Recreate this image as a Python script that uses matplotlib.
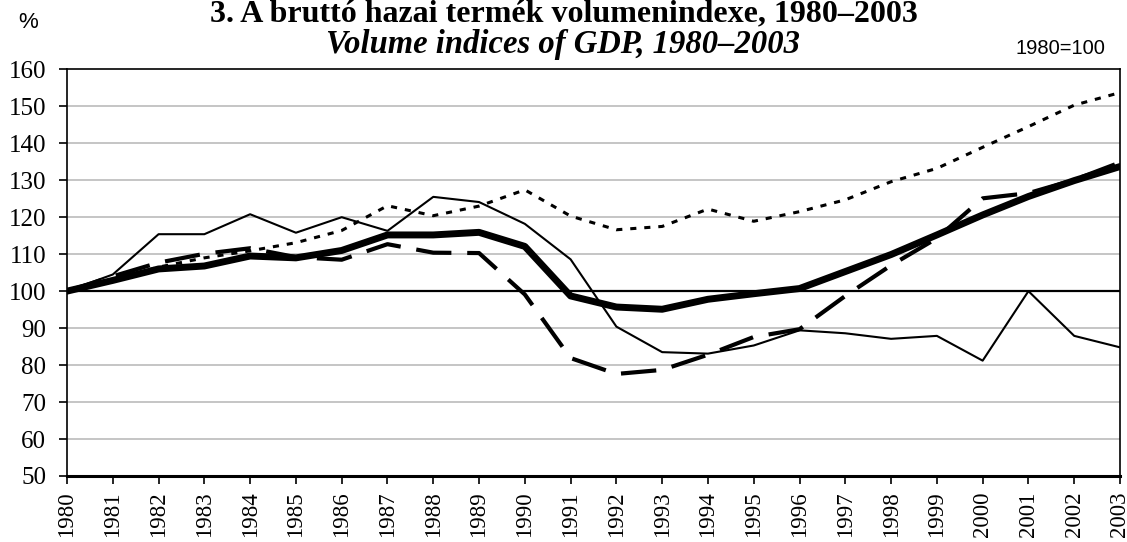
import numpy as np
import matplotlib
matplotlib.use('Agg')
from matplotlib import pyplot as plt

years = list(range(1980, 2004))

# thin solid line
series_thin = [100, 104.5, 115.4, 115.4, 120.8, 115.8, 120.0, 116.3, 125.5, 124.1,
               118.2, 108.6, 90.4, 83.5, 83.1, 85.3, 89.4, 88.6, 87.1, 87.9,
               81.2, 100.0, 87.9, 84.8]
# dotted line
series_dotted = [100, 103.0, 106.5, 109.0, 110.9, 113.1, 116.4, 123.1, 120.4, 123.0,
                 127.4, 120.3, 116.6, 117.5, 122.2, 118.9, 121.5, 124.7, 129.6, 133.2,
                 138.9, 144.5, 150.3, 153.7]
# dashed line
series_dashed = [100, 104.0, 107.7, 110.1, 111.6, 109.2, 108.5, 112.7, 110.4, 110.3,
                 99.1, 81.9, 77.6, 78.7, 82.8, 87.6, 89.7, 98.7, 107.0, 114.3,
                 125.1, 126.5, 130.1, 134.8]
# thick solid line
series_thick = [100, 102.9, 106.0, 106.8, 109.5, 109.0, 111.0, 115.2, 115.2, 115.9,
                112.1, 98.7, 95.7, 95.1, 97.8, 99.3, 100.7, 105.3, 109.9, 115.2,
                120.6, 125.6, 129.9, 133.7]

yticks = list(range(50, 161, 10))

fig = plt.figure(figsize=(11.27, 5.42), dpi=100)
ax = fig.add_axes([67/1127, 1-476/542, (1120-67)/1127, (476-69.3)/542])

serif = ['Liberation Serif', 'DejaVu Serif']
sans = ['Liberation Sans', 'DejaVu Sans']

# grid
for v in yticks:
    if v == 100:
        ax.axhline(v, color='black', lw=1.6, zorder=2)
    elif v not in (50, 160):
        ax.axhline(v, color='#c0c0c0', lw=1.3, zorder=1)

ax.plot(years, series_thin, color='black', lw=1.5, zorder=3)
ax.plot(years, series_dotted, color='black', lw=2.2, dashes=(2.0, 2.6),
        dash_capstyle='butt', zorder=3)
ax.plot(years, series_dashed, color='black', lw=3.0, dashes=(8.5, 3.8),
        dash_capstyle='butt', zorder=4)
ax.plot(years, series_thick, color='black', lw=5.0, solid_capstyle='round',
        solid_joinstyle='round', zorder=5)

ax.set_xlim(1980, 2003)
ax.set_ylim(50, 160)
ax.set_yticks(yticks)
ax.set_xticks(years)
ax.set_xticklabels([str(y) for y in years], rotation=90, family=serif, fontsize=16.5)
ax.set_yticklabels([str(v) for v in yticks], family=serif, fontsize=18)
ax.tick_params(axis='both', direction='out', length=6, width=1.2, color='black')
ax.tick_params(axis='y', pad=9)
ax.tick_params(axis='x', pad=5)
for side in ['left', 'right', 'top']:
    ax.spines[side].set_linewidth(1.2)
ax.spines['bottom'].set_linewidth(2.2)

fig.text(0.5, 1-14/542, '3. A bruttó hazai termék volumenindexe, 1980–2003',
         ha='center', va='center', family=serif, fontweight='bold', fontsize=23)
fig.text(0.5, 1-44/542, 'Volume indices of GDP, 1980–2003',
         ha='center', va='center', family=serif, fontweight='bold', style='italic', fontsize=23.5)
fig.text(28/1127, 1-23/542, '%', ha='center', va='center', family=sans, fontsize=16)
fig.text(1060/1127, 1-48/542, '1980=100', ha='center', va='center', family=sans, fontsize=14.5)

fig.savefig('out.png', dpi=100)
